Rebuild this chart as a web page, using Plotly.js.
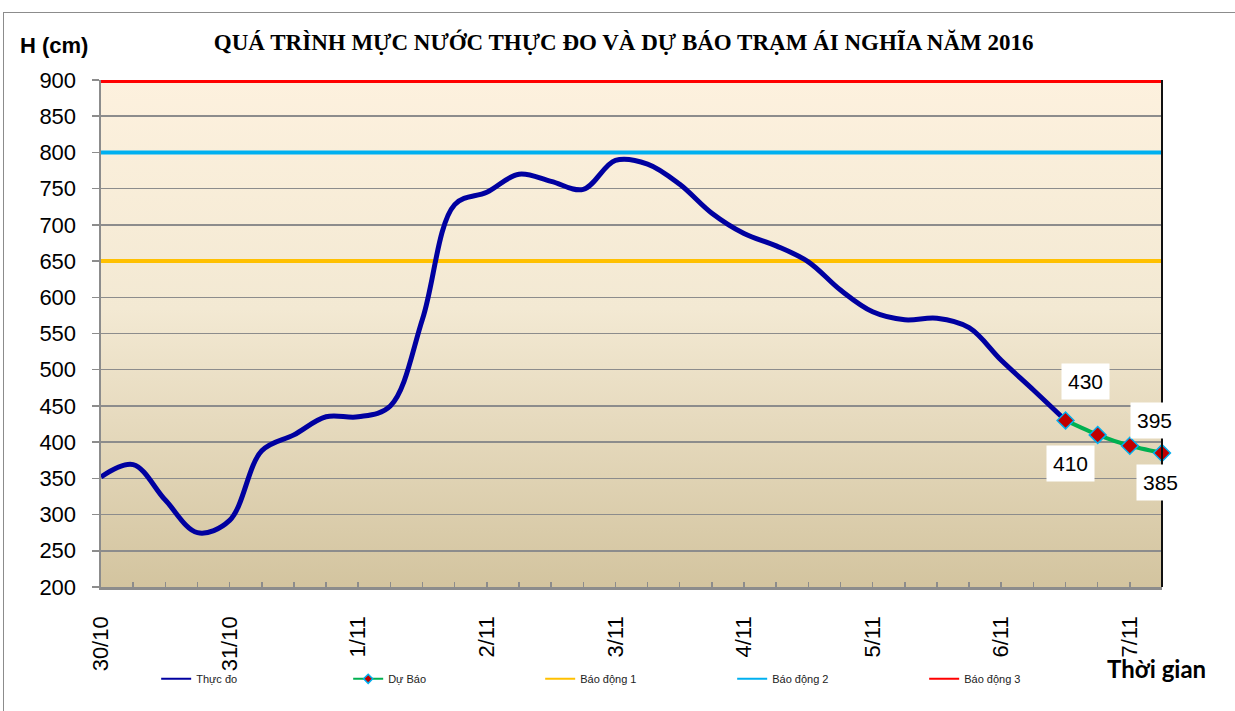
<!DOCTYPE html>
<html>
<head>
<meta charset="utf-8">
<script src="https://cdn.plot.ly/plotly-3.0.1.min.js"></script>
<style>
  html, body { margin: 0; padding: 0; background: #ffffff; }
  #chart { width: 1235px; height: 711px; }
  #frame { position: absolute; left: 3px; top: 12px; width: 1240px; height: 705px;
           border: 1.5px solid #8c8c8c; pointer-events: none; box-sizing: border-box; }
</style>
</head>
<body>
<div id="chart"></div>
<div id="frame"></div>
<script>
// ---- Data ----
const times = [
  '30/10 0h','30/10 6h','30/10 12h','30/10 18h',
  '31/10 0h','31/10 6h','31/10 12h','31/10 18h',
  '1/11 0h','1/11 6h','1/11 12h','1/11 18h',
  '2/11 0h','2/11 6h','2/11 12h','2/11 18h',
  '3/11 0h','3/11 6h','3/11 12h','3/11 18h',
  '4/11 0h','4/11 6h','4/11 12h','4/11 18h',
  '5/11 0h','5/11 6h','5/11 12h','5/11 18h',
  '6/11 0h','6/11 6h','6/11 12h','6/11 18h',
  '7/11 0h','7/11 6h'
];
const dayLabels = ['30/10','31/10','1/11','2/11','3/11','4/11','5/11','6/11','7/11'];
const observed = [352, 369, 320, 275, 292, 388, 410, 435, 435, 450, 570, 728, 745, 770, 760, 749,
                  789, 784, 756, 716, 688, 671, 649, 610, 580, 569, 571, 558, 513, 472, 430];
const forecast = [430, 410, 395, 385];
const alertLevels = [650, 800, 900];
const alertNames = ['Báo động 1', 'Báo động 2', 'Báo động 3'];
const yTicks = [200, 250, 300, 350, 400, 450, 500, 550, 600, 650, 700, 750, 800, 850, 900];

// ---- Styles ----
const alertColors = ['#FFC000', '#00B0F0', '#FF0000'];
const alertWidths = [4, 4, 6];
const FONT = 'Liberation Sans, Arial, sans-serif';

const obsX = times.slice(0, observed.length);
const fcStart = observed.length - 1;
const fcX = times.slice(fcStart, fcStart + forecast.length);

const tickText = times.map(t => {
  const d = t.split(' ')[0];
  return (t.endsWith(' 0h') && dayLabels.includes(d)) ? d : '';
});

const traces = [];
alertLevels.forEach((lv, i) => {
  traces.push({
    x: [times[0], times[times.length - 1]], y: [lv, lv],
    type: 'scatter', mode: 'lines', name: alertNames[i],
    line: { color: alertColors[i], width: alertWidths[i] },
    showlegend: false, hoverinfo: 'skip', legendgroup: 'a' + i
  });
});
traces.push({
  x: obsX, y: observed, type: 'scatter', mode: 'lines', name: 'Thực đo',
  line: { color: '#0000A0', width: 5, shape: 'spline', smoothing: 1 },
  showlegend: false, legendgroup: 'obs'
});
traces.push({
  x: fcX, y: forecast, type: 'scatter', mode: 'lines+markers', name: 'Dự Báo',
  line: { color: '#00B050', width: 4, shape: 'spline', smoothing: 0.6 },
  marker: { symbol: 'diamond', size: 13, color: '#C00000', line: { color: '#00B0F0', width: 1.5 } },
  showlegend: false, legendgroup: 'fc', cliponaxis: false
});

const legendItems = [
  { name: 'Thực đo', color: '#0000A0', group: 'obs', marker: false },
  { name: 'Dự Báo', color: '#00B050', group: 'fc', marker: true },
  { name: alertNames[0], color: alertColors[0], group: 'a0', marker: false },
  { name: alertNames[1], color: alertColors[1], group: 'a1', marker: false },
  { name: alertNames[2], color: alertColors[2], group: 'a2', marker: false }
];
legendItems.forEach(it => {
  traces.push({
    x: [null], y: [null], type: 'scatter', mode: it.marker ? 'lines+markers' : 'lines',
    name: it.name, legendgroup: it.group,
    line: { color: it.color, width: 2 },
    marker: { symbol: 'diamond', size: 7, color: '#C00000', line: { color: '#00B0F0', width: 1.5 } },
    hoverinfo: 'skip'
  });
});

const labelShift = [[20, 39], [-27, -29], [25, 25], [-2, -29]];
const annotations = forecast.map((v, i) => ({
  x: fcX[i], y: v, xref: 'x', yref: 'y', text: String(v), showarrow: false,
  xshift: labelShift[i][0], yshift: labelShift[i][1],
  font: { family: FONT, size: 21, color: '#000' },
  bgcolor: '#ffffff', borderpad: 6
}));
annotations.push({
  text: '<b>H (cm)</b>', xref: 'paper', yref: 'paper', x: -0.044, y: 1.069,
  xanchor: 'center', yanchor: 'middle', showarrow: false,
  font: { family: FONT, size: 22, color: '#000' }
});
annotations.push({
  text: '<b>Thời gian</b>', xref: 'paper', yref: 'paper', x: 0.995, y: -0.1615,
  xanchor: 'center', yanchor: 'middle', showarrow: false,
  font: { family: 'Lato, Open Sans, sans-serif', size: 24, color: '#000' }
});

const svgBg = "<svg xmlns='http://www.w3.org/2000/svg' width='100' height='100' preserveAspectRatio='none'>" +
  "<defs><linearGradient id='g' x1='0' y1='0' x2='0' y2='1'>" +
  "<stop offset='0' stop-color='#FDF1DE'/><stop offset='0.45' stop-color='#F3E9D3'/><stop offset='1' stop-color='#D3C49F'/>" +
  "</linearGradient></defs><rect width='100' height='100' fill='url(#g)'/></svg>";

const layout = {
  width: 1235, height: 711,
  margin: { l: 101, r: 73, t: 80, b: 124 },
  paper_bgcolor: '#ffffff',
  plot_bgcolor: 'rgba(0,0,0,0)',
  title: {
    text: '<b>QUÁ TRÌNH MỰC NƯỚC THỰC ĐO VÀ DỰ BÁO TRẠM ÁI NGHĨA NĂM 2016</b>',
    font: { family: 'Liberation Serif, Times New Roman, serif', size: 23, color: '#000' },
    x: 0.505, xref: 'container', y: 1 - 42 / 711, yref: 'container', yanchor: 'middle'
  },
  images: [{
    source: 'data:image/svg+xml;charset=utf-8,' + encodeURIComponent(svgBg),
    xref: 'paper', yref: 'paper', x: 0, y: 1, sizex: 1, sizey: 1,
    sizing: 'stretch', xanchor: 'left', yanchor: 'top', layer: 'below'
  }],
  xaxis: {
    type: 'category', categoryorder: 'array', categoryarray: times,
    range: [0, times.length - 1],
    tickmode: 'array', tickvals: times, ticktext: tickText,
    tickangle: -90, ticks: 'inside', ticklen: 5, tickcolor: '#8c8c8c', tickwidth: 1.5,
    ticklabelstandoff: 18,
    tickfont: { family: FONT, size: 22, color: '#000' },
    showgrid: false, zeroline: false,
    showline: true, linecolor: '#8c8c8c', linewidth: 2.5
  },
  yaxis: {
    range: [200, 900], tickmode: 'array', tickvals: yTicks,
    ticks: 'outside', ticklen: 7, tickcolor: '#8c8c8c', tickwidth: 1.5,
    ticklabelstandoff: 11,
    tickfont: { family: FONT, size: 22, color: '#000' },
    showgrid: true, gridcolor: '#8c8c8c', gridwidth: 1.5,
    zeroline: false, showline: true, linecolor: '#8c8c8c', linewidth: 2.5
  },
  shapes: [{
    type: 'line', xref: 'paper', yref: 'paper', x0: 1, x1: 1, y0: 0, y1: 1,
    line: { color: '#111111', width: 2 }
  }],
  legend: {
    orientation: 'h', x: 0.052, xanchor: 'left', y: -0.181, yanchor: 'middle',
    font: { family: FONT, size: 11, color: '#222' },
    entrywidth: 147, entrywidthmode: 'pixels', bgcolor: 'rgba(0,0,0,0)',
    traceorder: 'normal'
  },
  annotations: annotations,
  showlegend: true,
  hovermode: false
};

Plotly.newPlot('chart', traces, layout, { displayModeBar: false, staticPlot: true });
</script>
</body>
</html>
